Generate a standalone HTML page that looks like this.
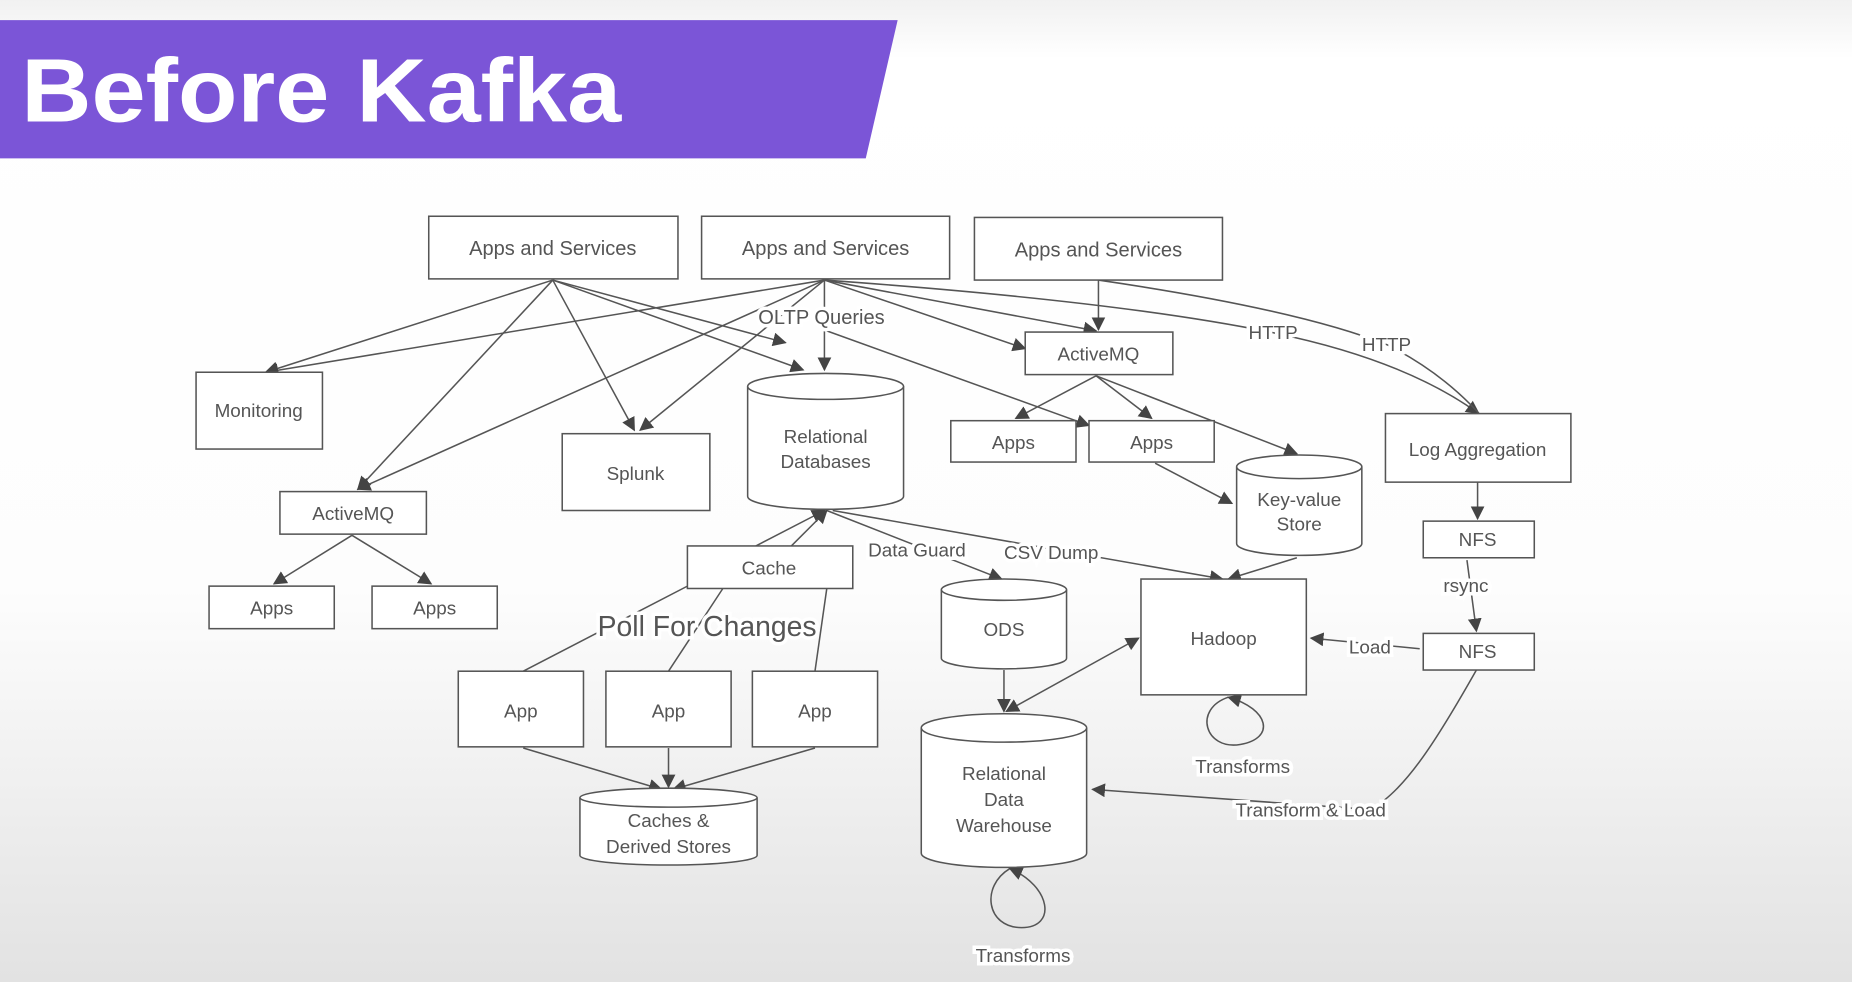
<!DOCTYPE html>
<html><head><meta charset="utf-8"><style>
html,body{margin:0;padding:0;width:1852px;height:982px;overflow:hidden;background:#fff}
svg{display:block}
text{font-family:"Liberation Sans",sans-serif;fill:#555;font-size:16px}
</style></head><body>
<svg width="1852" height="982" viewBox="0 0 1568 831" preserveAspectRatio="none">
<defs>
<linearGradient id="bg" x1="0" y1="0" x2="0" y2="1">
<stop offset="0" stop-color="#f1f1f1"/><stop offset="0.06" stop-color="#fff"/><stop offset="0.6" stop-color="#fdfdfd"/><stop offset="1" stop-color="#e2e2e2"/></linearGradient>
<marker id="a" viewBox="0 0 10 10" refX="9" refY="5" markerWidth="9" markerHeight="9" orient="auto-start-reverse"><path d="M0,0L10,5L0,10z" fill="#444"/></marker>
</defs>
<rect width="1568" height="831" fill="url(#bg)"/>
<polygon points="0,17 760,17 733,134 0,134" fill="#7b55d7"/>
<text x="18" y="103" textLength="508" lengthAdjust="spacingAndGlyphs" style="font-size:76px;font-weight:bold;fill:#fff">Before Kafka</text>
<g fill="none" stroke="#555" stroke-width="1.3" marker-end="url(#a)">
<path d="M468,237L225,315"/><path d="M468,237L303,414"/><path d="M468,237L537,364"/><path d="M468,237L680,313"/><path d="M468,237L665,290"/>
<path d="M698,237L225,315"/><path d="M698,237L303,414"/><path d="M698,237L542,364"/><path d="M698,237L698,313"/><path d="M698,237L928,280"/><path d="M698,237L868,295"/>
<path d="M698,237Q950,255 1080,282Q1190,305 1252,350"/>
<path d="M930,237L930,279"/>
<path d="M930,237Q1100,262 1175,292Q1230,320 1265,365"/>
<path d="M700,280L922,360"/>
<path d="M298,453L232,494"/><path d="M298,453L365,494"/>
<path d="M928,318L860,354"/><path d="M928,318L975,354"/><path d="M928,318L1098,384"/>
<path d="M978,392L1043,426"/>
<path d="M1251,408L1251,439"/><path d="M1242,474L1250,534"/>
<path d="M1202,549L1110,540"/>
<path d="M705,432L1035,490"/><path d="M1098,472L1040,490"/>
<path d="M700,432L848,490"/>
<path d="M640,462L698,432"/><path d="M670,462L700,432"/>
<path d="M566,633L566,666"/><path d="M443,633L560,668"/><path d="M690,633L570,668"/>
<path d="M850,567L850,602"/>
<path d="M964,540L852,602" marker-start="url(#a)"/>
<path d="M1250,567C1220,620 1190,670 1160,685L925,668"/>
<path d="M1040,590C1010,600 1020,635 1050,630C1080,625 1075,600 1040,590"/>
<path d="M855,735C830,750 835,785 865,785C895,785 890,750 855,735"/>
</g>
<g fill="none" stroke="#555" stroke-width="1.3">
<path d="M443,568L582,496"/><path d="M566,568L612,498"/><path d="M690,568L700,498"/>
</g>
<g fill="#fff" stroke="#555" stroke-width="1.3">
<rect x="363" y="183" width="211" height="53"/><rect x="594" y="183" width="210" height="53"/><rect x="825" y="184" width="210" height="53"/>
<rect x="166" y="315" width="107" height="65"/><rect x="237" y="416" width="124" height="36"/>
<rect x="177" y="496" width="106" height="36"/><rect x="315" y="496" width="106" height="36"/>
<rect x="476" y="367" width="125" height="65"/>
<rect x="868" y="281" width="125" height="36"/><rect x="805" y="356" width="106" height="35"/><rect x="922" y="356" width="106" height="35"/>
<rect x="1173" y="350" width="157" height="58"/><rect x="1205" y="441" width="94" height="31"/><rect x="1205" y="536" width="94" height="31"/>
<rect x="582" y="462" width="140" height="36"/><rect x="966" y="490" width="140" height="98"/>
<rect x="388" y="568" width="106" height="64"/><rect x="513" y="568" width="106" height="64"/><rect x="637" y="568" width="106" height="64"/>
<path d="M633,327V420A66,11 0 0 0 765,420V327"/><ellipse cx="699" cy="327" rx="66" ry="11"/>
<path d="M1047,395V460A53,10 0 0 0 1153,460V395"/><ellipse cx="1100" cy="395" rx="53" ry="10"/>
<path d="M797,499V557A53,9 0 0 0 903,557V499"/><ellipse cx="850" cy="499" rx="53" ry="9"/>
<path d="M491,675V724A75,8 0 0 0 641,724V675"/><ellipse cx="566" cy="675" rx="75" ry="8"/>
<path d="M780,616V722A70,12 0 0 0 920,722V616"/><ellipse cx="850" cy="616" rx="70" ry="12"/>
</g>
<g text-anchor="middle">
<text x="468" y="216" style="font-size:17px">Apps and Services</text><text x="699" y="216" style="font-size:17px">Apps and Services</text><text x="930" y="217" style="font-size:17px">Apps and Services</text>
<text x="219" y="353">Monitoring</text><text x="299" y="440">ActiveMQ</text>
<text x="230" y="520">Apps</text><text x="368" y="520">Apps</text><text x="538" y="406">Splunk</text>
<text x="699" y="375">Relational</text><text x="699" y="396">Databases</text>
<text x="930" y="305">ActiveMQ</text><text x="858" y="380">Apps</text><text x="975" y="380">Apps</text>
<text x="1100" y="428">Key-value</text><text x="1100" y="449">Store</text>
<text x="1251" y="386">Log Aggregation</text><text x="1251" y="462">NFS</text><text x="1251" y="557">NFS</text>
<text x="651" y="486">Cache</text><text x="850" y="538">ODS</text><text x="1036" y="546">Hadoop</text>
<text x="441" y="607">App</text><text x="566" y="607">App</text><text x="690" y="607">App</text>
<text x="566" y="700">Caches &amp;</text><text x="566" y="722">Derived Stores</text>
<text x="850" y="660">Relational</text><text x="850" y="682">Data</text><text x="850" y="704">Warehouse</text>
</g>
<g style="paint-order:stroke" stroke="#fff" stroke-width="6">
<text x="642" y="274" style="font-size:17px">OLTP Queries</text>
<text x="1057" y="287">HTTP</text><text x="1153" y="297">HTTP</text>
<text x="735" y="471">Data Guard</text><text x="850" y="473">CSV Dump</text>
<text x="506" y="538" style="font-size:24px">Poll For Changes</text>
<text x="1222" y="501">rsync</text><text x="1142" y="553">Load</text>
<text x="1012" y="654">Transforms</text><text x="1046" y="691">Transform &amp; Load</text>
<text x="826" y="814">Transforms</text>
</g>
</svg>
</body></html>
